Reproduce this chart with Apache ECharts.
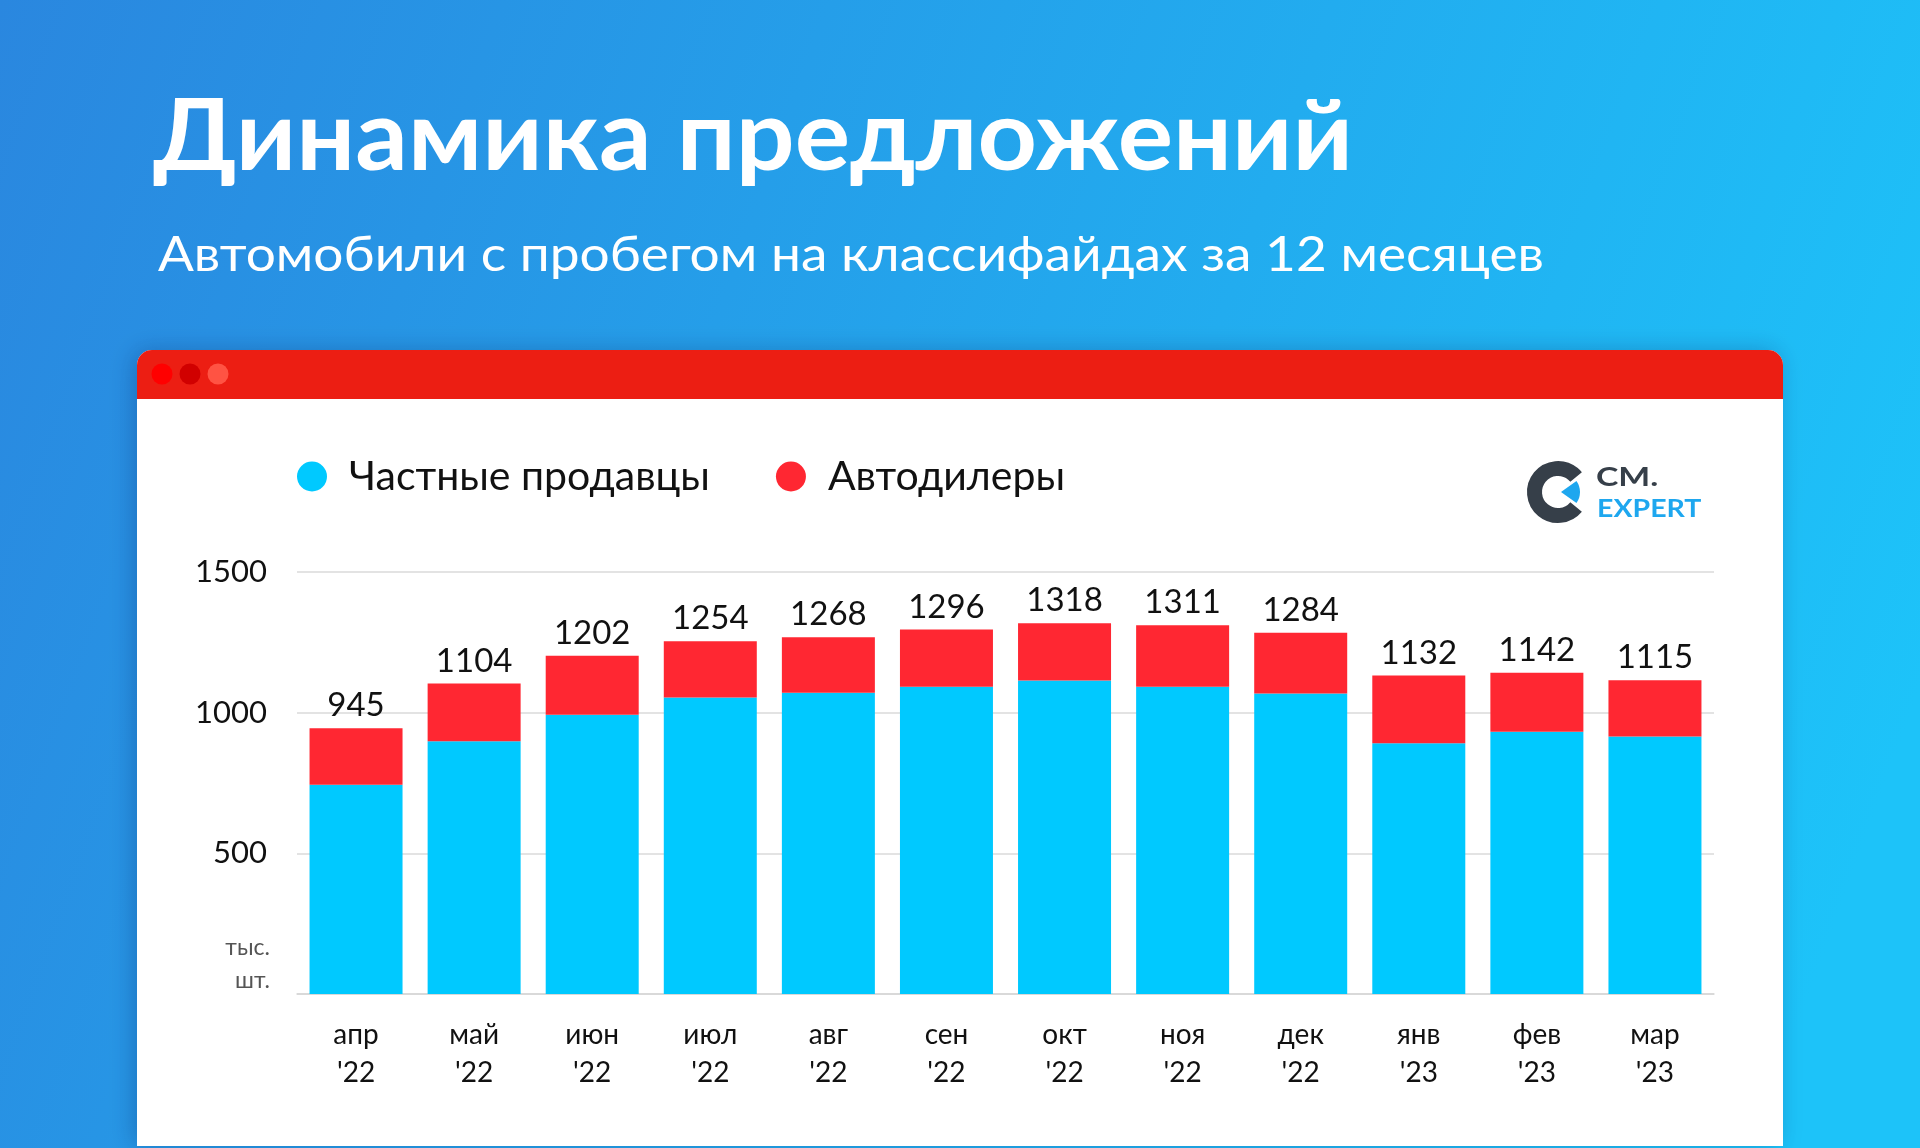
<!DOCTYPE html>
<html lang="ru">
<head>
    <meta charset="utf-8" />
    <title>Динамика предложений</title>
    <style>
        html, body { margin: 0; padding: 0; }
        #main { width: 1920px; height: 1148px; }
    </style>
</head>
<body>
    <div id="main"></div>
    <script src="https://cdn.jsdelivr.net/npm/echarts@6/dist/echarts.min.js"></script>
    <script>
        // данные графика
        var months = ["апр\n'22", "май\n'22", "июн\n'22", "июл\n'22", "авг\n'22", "сен\n'22",
                      "окт\n'22", "ноя\n'22", "дек\n'22", "янв\n'23", "фев\n'23", "мар\n'23"];
        var privateSellers = [744, 898, 993, 1054, 1071, 1092, 1114, 1092, 1068, 891, 932, 915];
        var dealers = [201, 206, 209, 200, 197, 204, 204, 219, 216, 241, 210, 200];
        var totals = [945, 1104, 1202, 1254, 1268, 1296, 1318, 1311, 1284, 1132, 1142, 1115];
        var yTicks = [0, 500, 1000, 1500];

        var FONT = 'Lato';

        // подгонка ширины заголовков под оригинал
        function fitScale(text, font, target) {
            var ctx = document.createElement('canvas').getContext('2d');
            ctx.font = font;
            return target / ctx.measureText(text).width;
        }
        var titleText = 'Динамика предложений';
        var subText = 'Автомобили с пробегом на классифайдах за 12 месяцев';
        var titleScale = fitScale(titleText, 'bold 98px ' + FONT, 1200);
        var subScale = fitScale(subText, '48px ' + FONT, 1386);

        var myChart = echarts.init(document.getElementById('main'));

        var option = {
            animation: false,
            textStyle: { fontFamily: FONT },
            graphic: [
                {   // фон
                    type: 'rect', z: -20, silent: true,
                    shape: { x: 0, y: 0, width: 1920, height: 1148 },
                    style: {
                        fill: new echarts.graphic.LinearGradient(0, 0, 1, 0.6, [
                            { offset: 0, color: '#2A87DF' },
                            { offset: 1, color: '#1DC3F9' }
                        ])
                    }
                },
                {
                    type: 'text', z: -10, x: 153, y: 138, scaleX: titleScale,
                    style: { text: titleText, font: 'bold 98px ' + FONT, fill: '#fff', verticalAlign: 'middle' }
                },
                {
                    type: 'text', z: -10, x: 158, y: 256, scaleX: subScale,
                    style: { text: subText, font: '48px ' + FONT, fill: '#fff', verticalAlign: 'middle' }
                },
                {   // карточка
                    type: 'rect', z: -15,
                    shape: { x: 137, y: 350, width: 1646, height: 796, r: [15, 15, 0, 0] },
                    style: { fill: '#fff', shadowBlur: 24, shadowColor: 'rgba(0,20,80,0.25)', shadowOffsetX: -4 }
                },
                {
                    type: 'rect', z: -14,
                    shape: { x: 137, y: 350, width: 1646, height: 49, r: [15, 15, 0, 0] },
                    style: { fill: '#EC1E13' }
                },
                { type: 'circle', z: -13, shape: { cx: 162, cy: 374, r: 10.5 }, style: { fill: '#FF0000' } },
                { type: 'circle', z: -13, shape: { cx: 190, cy: 374, r: 10.5 }, style: { fill: '#D10000' } },
                { type: 'circle', z: -13, shape: { cx: 218, cy: 374, r: 10.5 }, style: { fill: '#FF5343' } },
                {   // логотип
                    type: 'arc', z: -12,
                    shape: { cx: 1558, cy: 492, r: 23.5, startAngle: Math.PI * 0.22, endAngle: Math.PI * 1.78 },
                    style: { stroke: '#363F49', lineWidth: 15, fill: null }
                },
                {
                    type: 'sector', z: -12,
                    shape: { cx: 1561, cy: 492, r: 19, startAngle: -0.62, endAngle: 0.62 },
                    style: { fill: '#1EA7EF' }
                },
                {
                    type: 'text', z: -12, x: 1596, y: 478, scaleX: 1.3,
                    style: { text: 'CM.', font: 'bold 26px ' + FONT, fill: '#363F49', verticalAlign: 'middle' }
                },
                {
                    type: 'text', z: -12, x: 1597, y: 509, scaleX: 1.14,
                    style: { text: 'EXPERT', font: 'bold 25px ' + FONT, fill: '#1EA7EF', verticalAlign: 'middle' }
                },
                {   // единицы
                    type: 'text', z: -12, x: 270, y: 948,
                    style: { text: 'тыс.', font: '23px ' + FONT, fill: '#555', align: 'right', verticalAlign: 'middle' }
                },
                {
                    type: 'text', z: -12, x: 270, y: 981,
                    style: { text: 'шт.', font: '23px ' + FONT, fill: '#555', align: 'right', verticalAlign: 'middle' }
                }
            ],
            legend: {
                left: 292,
                top: 451,
                icon: 'circle',
                itemWidth: 30,
                itemHeight: 30,
                itemGap: 66,
                textStyle: { fontSize: 41, color: '#111', fontFamily: FONT, padding: [0, 0, 0, 17] },
                data: ['Частные продавцы', 'Автодилеры']
            },
            grid: { left: 297, right: 206, top: 572, bottom: 154 },
            xAxis: {
                type: 'category',
                data: months,
                axisLine: { lineStyle: { color: '#D6D6D6', width: 1.5 } },
                axisTick: { show: false },
                axisLabel: { fontSize: 28, lineHeight: 38, color: '#111', margin: 22 }
            },
            yAxis: {
                type: 'value',
                min: yTicks[0],
                max: yTicks[yTicks.length - 1],
                interval: yTicks[1] - yTicks[0],
                axisLine: { show: false },
                axisTick: { show: false },
                splitLine: { lineStyle: { color: '#DADADA', width: 1.5 } },
                axisLabel: {
                    fontSize: 31, color: '#111', margin: 30,
                    formatter: function (v) { return v === 0 ? '' : v; }
                }
            },
            series: [
                {
                    name: 'Частные продавцы',
                    type: 'bar',
                    stack: 'all',
                    barWidth: 93,
                    itemStyle: { color: '#00C9FF' },
                    data: privateSellers
                },
                {
                    name: 'Автодилеры',
                    type: 'bar',
                    stack: 'all',
                    barWidth: 93,
                    itemStyle: { color: '#FF2732' },
                    label: {
                        show: true,
                        position: 'top',
                        distance: 6,
                        fontSize: 33,
                        color: '#111',
                        formatter: function (p) { return totals[p.dataIndex]; }
                    },
                    data: dealers
                }
            ]
        };
        myChart.setOption(option);
    </script>
</body>
</html>
